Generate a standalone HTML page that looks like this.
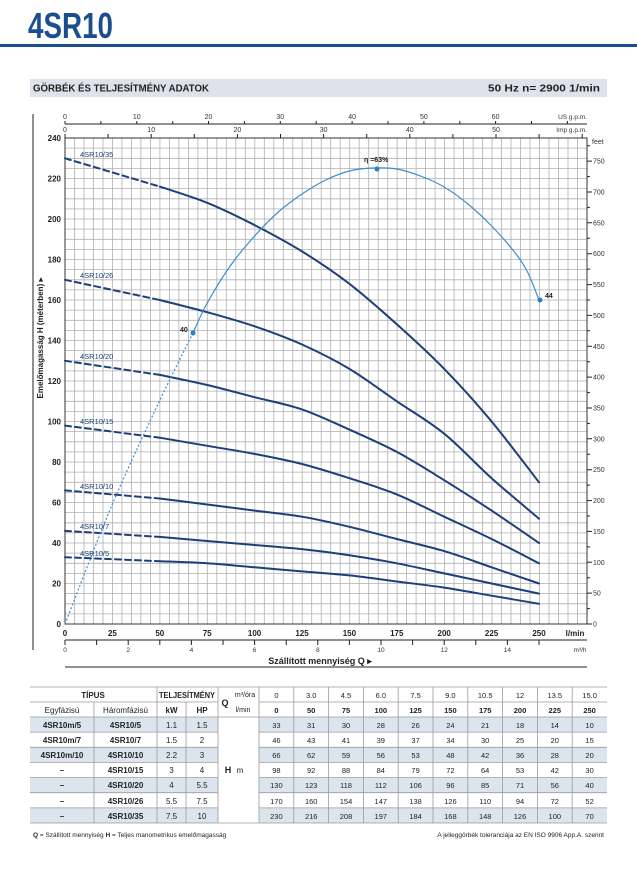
<!DOCTYPE html>
<html><head><meta charset="utf-8"><style>
html,body{margin:0;padding:0;background:#fff}
svg{display:block}
text{font-family:"Liberation Sans",sans-serif}
</style></head><body>
<svg id="sv" width="637" height="883" viewBox="0 0 637 883" xmlns="http://www.w3.org/2000/svg">
<text x="28" y="38" font-size="36" font-weight="bold" fill="#1b4e8e" textLength="85" lengthAdjust="spacingAndGlyphs">4SR10</text>
<rect x="0" y="44" width="637" height="3" fill="#1b4e8e"/>
<rect x="30" y="79" width="577" height="18" fill="#dde3ea"/>
<text x="33" y="91.5" font-size="10" font-weight="bold" fill="#222" textLength="176" lengthAdjust="spacingAndGlyphs">GÖRBÉK ÉS TELJESÍTMÉNY ADATOK</text>
<text x="600" y="91.5" font-size="10" font-weight="bold" fill="#222" text-anchor="end" textLength="112" lengthAdjust="spacingAndGlyphs">50 Hz   n= 2900  1/min</text>

<line x1="33" y1="114" x2="33" y2="650" stroke="#222" stroke-width="1"/>

<g stroke="#b0b0b0" stroke-width="0.8">
<path d="M65 138V624M74.5 138V624M84 138V624M93.5 138V624M103 138V624M112.4 138V624M121.9 138V624M131.4 138V624M140.9 138V624M150.4 138V624M159.9 138V624M169.4 138V624M178.9 138V624M188.4 138V624M197.9 138V624M207.3 138V624M216.8 138V624M226.3 138V624M235.8 138V624M245.3 138V624M254.8 138V624M264.3 138V624M273.8 138V624M283.3 138V624M292.8 138V624M302.2 138V624M311.7 138V624M321.2 138V624M330.7 138V624M340.2 138V624M349.7 138V624M359.2 138V624M368.7 138V624M378.2 138V624M387.7 138V624M397.1 138V624M406.6 138V624M416.1 138V624M425.6 138V624M435.1 138V624M444.6 138V624M454.1 138V624M463.6 138V624M473.1 138V624M482.6 138V624M492 138V624M501.5 138V624M511 138V624M520.5 138V624M530 138V624M539.5 138V624M549 138V624M558.5 138V624M568 138V624M577.5 138V624M587 138V624"/>
<path d="M65 138.0H587M65 148.1H587M65 158.3H587M65 168.4H587M65 178.5H587M65 188.6H587M65 198.8H587M65 208.9H587M65 219.0H587M65 229.1H587M65 239.3H587M65 249.4H587M65 259.5H587M65 269.6H587M65 279.8H587M65 289.9H587M65 300.0H587M65 310.1H587M65 320.3H587M65 330.4H587M65 340.5H587M65 350.6H587M65 360.8H587M65 370.9H587M65 381.0H587M65 391.1H587M65 401.3H587M65 411.4H587M65 421.5H587M65 431.6H587M65 441.8H587M65 451.9H587M65 462.0H587M65 472.1H587M65 482.3H587M65 492.4H587M65 502.5H587M65 512.6H587M65 522.8H587M65 532.9H587M65 543.0H587M65 553.1H587M65 563.3H587M65 573.4H587M65 583.5H587M65 593.6H587M65 603.8H587M65 613.9H587M65 624.0H587"/>
</g>
<rect x="65" y="138" width="522" height="486" fill="none" stroke="#333" stroke-width="1"/>

<g stroke="#222" stroke-width="1" fill="none">
<path d="M65 124H587"/>
<path d="M65 121V124M100.9 121V124M136.8 121V124M172.7 121V124M208.5 121V124M244.4 121V124M280.3 121V124M316.2 121V124M352.1 121V124M388 121V124M423.9 121V124M459.8 121V124M495.6 121V124M531.5 121V124M567.4 121V124"/>
<path d="M65 134V138M108.1 134V138M151.2 134V138M194.3 134V138M237.4 134V138M280.5 134V138M323.6 134V138M366.7 134V138M409.8 134V138M452.9 134V138M496 134V138M539.1 134V138M582.2 134V138"/>
</g>
<g font-size="7" fill="#333" text-anchor="middle">
<text x="65" y="119">0</text><text x="136.8" y="119">10</text><text x="208.5" y="119">20</text><text x="280.3" y="119">30</text><text x="352.1" y="119">40</text><text x="423.9" y="119">50</text><text x="495.6" y="119">60</text>
<text x="65" y="132">0</text><text x="151.2" y="132">10</text><text x="237.4" y="132">20</text><text x="323.6" y="132">30</text><text x="409.8" y="132">40</text><text x="496" y="132">50</text>
<text x="587" y="119" text-anchor="end" font-size="6.5">US g.p.m.</text>
<text x="587" y="132" text-anchor="end" font-size="6.5">Imp g.p.m.</text>
</g>

<g font-size="8" font-weight="bold" fill="#222" text-anchor="end">
<text x="61" y="141">240</text><text x="61" y="181.5">220</text><text x="61" y="222">200</text><text x="61" y="262.5">180</text><text x="61" y="303">160</text><text x="61" y="343.5">140</text><text x="61" y="384">120</text><text x="61" y="424.5">100</text><text x="61" y="465">80</text><text x="61" y="505.5">60</text><text x="61" y="546">40</text><text x="61" y="586.5">20</text><text x="61" y="627">0</text>
</g>
<text transform="translate(43,338) rotate(-90)" font-size="8" font-weight="bold" fill="#222" text-anchor="middle">Emelőmagasság  H  (méterben)  ▸</text>

<g stroke="#222" stroke-width="1">
<path d="M587 624H592M587 608.6H590M587 593.1H592M587 577.7H590M587 562.3H592M587 546.9H590M587 531.4H592M587 516H590M587 500.6H592M587 485.1H590M587 469.7H592M587 454.3H590M587 438.8H592M587 423.4H590M587 408H592M587 392.6H590M587 377.1H592M587 361.7H590M587 346.3H592M587 330.8H590M587 315.4H592M587 300H590M587 284.6H592M587 269.1H590M587 253.7H592M587 238.3H590M587 222.8H592M587 207.4H590M587 192H592M587 176.6H590M587 161.1H592M587 145.7H590"/>
</g>
<g font-size="7" fill="#333">
<text x="592" y="144">feet</text>
<text x="593" y="626.5">0</text><text x="593" y="595.6">50</text><text x="593" y="564.8">100</text><text x="593" y="533.9">150</text><text x="593" y="503.1">200</text><text x="593" y="472.2">250</text><text x="593" y="441.3">300</text><text x="593" y="410.5">350</text><text x="593" y="379.6">400</text><text x="593" y="348.8">450</text><text x="593" y="317.9">500</text><text x="593" y="287.1">550</text><text x="593" y="256.2">600</text><text x="593" y="225.3">650</text><text x="593" y="194.5">700</text><text x="593" y="163.6">750</text>
</g>

<g font-size="8" font-weight="bold" fill="#222" text-anchor="middle">
<text x="65" y="636">0</text><text x="112.4" y="636">25</text><text x="159.8" y="636">50</text><text x="207.2" y="636">75</text><text x="254.6" y="636">100</text><text x="302" y="636">125</text><text x="349.4" y="636">150</text><text x="396.8" y="636">175</text><text x="444.2" y="636">200</text><text x="491.6" y="636">225</text><text x="539" y="636">250</text>
<text x="575" y="636">l/min</text>
</g>
<g stroke="#222" stroke-width="1">
<path d="M65 640H587"/>
<path d="M65 640V645M96.6 640V645M128.2 640V645M159.8 640V645M191.4 640V645M223 640V645M254.6 640V645M286.2 640V645M317.8 640V645M349.4 640V645M381 640V645M412.6 640V645M444.2 640V645M475.8 640V645M507.4 640V645M539 640V645"/>
<path d="M65 667H587"/>
</g>
<g font-size="6.5" fill="#333" text-anchor="middle">
<text x="65" y="652">0</text><text x="128.2" y="652">2</text><text x="191.4" y="652">4</text><text x="254.6" y="652">6</text><text x="317.8" y="652">8</text><text x="381" y="652">10</text><text x="444.2" y="652">12</text><text x="507.4" y="652">14</text><text x="580" y="652">m³/h</text>
</g>
<text x="320" y="664" font-size="9" font-weight="bold" fill="#222" text-anchor="middle">Szállított mennyiség  Q  ▸</text>

<g fill="none" stroke="#1d3f7a" stroke-width="2" stroke-linejoin="round" stroke-linecap="round">
<g stroke-dasharray="6,4">
<polyline points="65,557.2 159.8,561.2"/>
<polyline points="65,530.9 159.8,536.9"/>
<polyline points="65,490.4 159.8,498.5"/>
<polyline points="65,425.6 159.8,437.7"/>
<polyline points="65,360.8 159.8,374.9"/>
<polyline points="65,279.8 159.8,300"/>
<polyline points="65,158.3 159.8,186.6"/>
</g>
<polyline class="s" points="159.8,561.2 207.2,563.3 254.6,567.3 302,571.4 349.4,575.4 396.8,581.5 444.2,587.6 491.6,595.7 539,603.8"/>
<polyline class="s" points="159.8,536.9 207.2,541 254.6,545 302,549.1 349.4,555.2 396.8,563.3 444.2,573.4 491.6,583.5 539,593.6"/>
<polyline class="s" points="159.8,498.5 207.2,504.5 254.6,510.6 302,516.7 349.4,526.8 396.8,539 444.2,551.1 491.6,567.3 539,583.5"/>
<polyline class="s" points="159.8,437.7 207.2,445.8 254.6,453.9 302,464 349.4,478.2 396.8,494.4 444.2,516.7 491.6,539 539,563.3"/>
<polyline class="s" points="159.8,374.9 207.2,385 254.6,397.2 302,409.4 349.4,429.6 396.8,451.9 444.2,480.2 491.6,510.6 539,543"/>
<polyline class="s" points="159.8,300 207.2,312.2 254.6,326.3 302,344.5 349.4,368.9 396.8,401.3 444.2,433.7 491.6,478.2 539,518.7"/>
<polyline class="s" points="159.8,186.6 207.2,202.8 254.6,225.1 302,251.4 349.4,283.8 396.8,324.3 444.2,368.9 491.6,421.5 539,482.3"/>
</g>
<g font-size="7.5" fill="#1d3f7a">
<text x="80" y="157">4SR10/35</text>
<text x="80" y="278">4SR10/26</text>
<text x="80" y="359">4SR10/20</text>
<text x="80" y="424">4SR10/15</text>
<text x="80" y="489">4SR10/10</text>
<text x="80" y="529">4SR10/7</text>
<text x="80" y="556">4SR10/5</text>
</g>

<g fill="none" stroke="#3a8fd0" stroke-width="1.2">
<polyline class="s" points="65,624 112,505 160,400 193,333" stroke-dasharray="2,2"/>
<polyline class="s" points="193,333 207.2,303 230.9,265 254.6,236 278.3,212 302,194 325.7,180 349.4,171 373.1,168 396.8,169 420.5,176 444.2,187 467.9,204 491.6,226 515.3,253 528,273 539,300"/>
</g>
<g fill="#2a80c8">
<circle cx="193" cy="333" r="2.5"/><circle cx="377" cy="169" r="2.5"/><circle cx="540" cy="300" r="2.5"/>
</g>
<g font-size="7" font-weight="bold" fill="#222">
<text x="180" y="332">40</text>
<text x="364" y="162">η =63%</text>
<text x="545" y="298">44</text>
</g>

<g>
<rect x="30" y="717" width="188" height="15.1" fill="#dce5ee"/>
<rect x="259" y="717" width="348" height="15.1" fill="#dce5ee"/>
<rect x="30" y="747.3" width="188" height="15.1" fill="#dce5ee"/>
<rect x="259" y="747.3" width="348" height="15.1" fill="#dce5ee"/>
<rect x="30" y="777.6" width="188" height="15.1" fill="#dce5ee"/>
<rect x="259" y="777.6" width="348" height="15.1" fill="#dce5ee"/>
<rect x="30" y="807.9" width="188" height="15.1" fill="#dce5ee"/>
<rect x="259" y="807.9" width="348" height="15.1" fill="#dce5ee"/>
</g>
<g stroke="#9a9a9a" stroke-width="0.8" fill="none">
<path d="M30 687H607M30 702H218M259 702H607M30 717H607M30 732.1H218M259 732.1H607M30 747.3H218M259 747.3H607M30 762.4H218M259 762.4H607M30 777.6H218M259 777.6H607M30 792.7H218M259 792.7H607M30 807.9H218M259 807.9H607M30 823H607"/>
<path d="M94 702V823M157 687V823M186 702V823M218 687V823M259 687V823M293.8 687V823M328.6 687V823M363.4 687V823M398.2 687V823M433 687V823M467.8 687V823M502.6 687V823M537.4 687V823M572.2 687V823"/>
</g>
<g font-size="8" fill="#222" text-anchor="middle">
<text x="93" y="698" font-weight="bold">TÍPUS</text>
<text x="187" y="698" font-weight="bold" textLength="56" lengthAdjust="spacingAndGlyphs">TELJESÍTMÉNY</text>
<text x="62" y="713">Egyfázisú</text><text x="125.5" y="713">Háromfázisú</text>
<text x="171.5" y="713" font-weight="bold">kW</text><text x="202" y="713" font-weight="bold">HP</text>
<text x="225" y="706" font-weight="bold" font-size="9">Q</text>
<text x="245" y="697" font-size="7">m³/óra</text><text x="243" y="712" font-size="7">l/min</text>
<text x="276.4" y="698" font-size="7.5">0</text><text x="311.2" y="698" font-size="7.5">3.0</text><text x="346" y="698" font-size="7.5">4.5</text><text x="380.8" y="698" font-size="7.5">6.0</text><text x="415.6" y="698" font-size="7.5">7.5</text><text x="450.4" y="698" font-size="7.5">9.0</text><text x="485.2" y="698" font-size="7.5">10.5</text><text x="520" y="698" font-size="7.5">12</text><text x="554.8" y="698" font-size="7.5">13.5</text><text x="589.6" y="698" font-size="7.5">15.0</text>
<g font-weight="bold" font-size="7.5">
<text x="276.4" y="713">0</text><text x="311.2" y="713">50</text><text x="346" y="713">75</text><text x="380.8" y="713">100</text><text x="415.6" y="713">125</text><text x="450.4" y="713">150</text><text x="485.2" y="713">175</text><text x="520" y="713">200</text><text x="554.8" y="713">225</text><text x="589.6" y="713">250</text>
</g>
<text x="228" y="773" font-weight="bold" font-size="9">H</text><text x="240" y="773" font-size="8">m</text>
<g font-weight="bold">
<text x="62" y="728">4SR10m/5</text><text x="62" y="743">4SR10m/7</text><text x="62" y="758">4SR10m/10</text><text x="62" y="773">–</text><text x="62" y="788">–</text><text x="62" y="804">–</text><text x="62" y="819">–</text>
<text x="125.5" y="728">4SR10/5</text><text x="125.5" y="743">4SR10/7</text><text x="125.5" y="758">4SR10/10</text><text x="125.5" y="773">4SR10/15</text><text x="125.5" y="788">4SR10/20</text><text x="125.5" y="804">4SR10/26</text><text x="125.5" y="819">4SR10/35</text>
</g>
<text x="171.5" y="728">1.1</text><text x="171.5" y="743">1.5</text><text x="171.5" y="758">2.2</text><text x="171.5" y="773">3</text><text x="171.5" y="788">4</text><text x="171.5" y="804">5.5</text><text x="171.5" y="819">7.5</text>
<text x="202" y="728">1.5</text><text x="202" y="743">2</text><text x="202" y="758">3</text><text x="202" y="773">4</text><text x="202" y="788">5.5</text><text x="202" y="804">7.5</text><text x="202" y="819">10</text>
<g font-size="7.5">
<text x="276.4" y="728">33</text><text x="311.2" y="728">31</text><text x="346" y="728">30</text><text x="380.8" y="728">28</text><text x="415.6" y="728">26</text><text x="450.4" y="728">24</text><text x="485.2" y="728">21</text><text x="520" y="728">18</text><text x="554.8" y="728">14</text><text x="589.6" y="728">10</text>
<text x="276.4" y="743">46</text><text x="311.2" y="743">43</text><text x="346" y="743">41</text><text x="380.8" y="743">39</text><text x="415.6" y="743">37</text><text x="450.4" y="743">34</text><text x="485.2" y="743">30</text><text x="520" y="743">25</text><text x="554.8" y="743">20</text><text x="589.6" y="743">15</text>
<text x="276.4" y="758">66</text><text x="311.2" y="758">62</text><text x="346" y="758">59</text><text x="380.8" y="758">56</text><text x="415.6" y="758">53</text><text x="450.4" y="758">48</text><text x="485.2" y="758">42</text><text x="520" y="758">36</text><text x="554.8" y="758">28</text><text x="589.6" y="758">20</text>
<text x="276.4" y="773">98</text><text x="311.2" y="773">92</text><text x="346" y="773">88</text><text x="380.8" y="773">84</text><text x="415.6" y="773">79</text><text x="450.4" y="773">72</text><text x="485.2" y="773">64</text><text x="520" y="773">53</text><text x="554.8" y="773">42</text><text x="589.6" y="773">30</text>
<text x="276.4" y="788">130</text><text x="311.2" y="788">123</text><text x="346" y="788">118</text><text x="380.8" y="788">112</text><text x="415.6" y="788">106</text><text x="450.4" y="788">96</text><text x="485.2" y="788">85</text><text x="520" y="788">71</text><text x="554.8" y="788">56</text><text x="589.6" y="788">40</text>
<text x="276.4" y="804">170</text><text x="311.2" y="804">160</text><text x="346" y="804">154</text><text x="380.8" y="804">147</text><text x="415.6" y="804">138</text><text x="450.4" y="804">126</text><text x="485.2" y="804">110</text><text x="520" y="804">94</text><text x="554.8" y="804">72</text><text x="589.6" y="804">52</text>
<text x="276.4" y="819">230</text><text x="311.2" y="819">216</text><text x="346" y="819">208</text><text x="380.8" y="819">197</text><text x="415.6" y="819">184</text><text x="450.4" y="819">168</text><text x="485.2" y="819">148</text><text x="520" y="819">126</text><text x="554.8" y="819">100</text><text x="589.6" y="819">70</text>
</g>
</g>
<text x="33" y="837" font-size="6.5" fill="#222"><tspan font-weight="bold">Q</tspan> = Szállított mennyiség  <tspan font-weight="bold">H</tspan> = Teljes manometrikus emelőmagasság</text>
<text x="604" y="837" font-size="6.5" fill="#222" text-anchor="end">A jelleggörbék toleranciája az EN ISO 9906 App.A. szerint</text>
</svg>
<script>
(function(){
var ns="http://www.w3.org/2000/svg";
var pls=document.querySelectorAll("polyline.s");
for(var k=0;k<pls.length;k++){
 var pl=pls[k];
 var pts=pl.getAttribute("points").trim().split(/\s+/).map(function(s){var a=s.split(",");return [parseFloat(a[0]),parseFloat(a[1])];});
 var d="M"+pts[0][0]+" "+pts[0][1];
 for(var i=0;i<pts.length-1;i++){
  var p0=pts[i>0?i-1:i],p1=pts[i],p2=pts[i+1],p3=pts[i+2<pts.length?i+2:i+1];
  var c1x=p1[0]+(p2[0]-p0[0])/6,c1y=p1[1]+(p2[1]-p0[1])/6;
  var c2x=p2[0]-(p3[0]-p1[0])/6,c2y=p2[1]-(p3[1]-p1[1])/6;
  d+=" C"+c1x.toFixed(2)+" "+c1y.toFixed(2)+" "+c2x.toFixed(2)+" "+c2y.toFixed(2)+" "+p2[0]+" "+p2[1];
 }
 var p=document.createElementNS(ns,"path");
 p.setAttribute("d",d);
 for(var j=0;j<pl.attributes.length;j++){var at=pl.attributes[j];if(at.name!="points"&&at.name!="class")p.setAttribute(at.name,at.value);}
 pl.parentNode.replaceChild(p,pl);
}
})();
</script>
</body></html>
